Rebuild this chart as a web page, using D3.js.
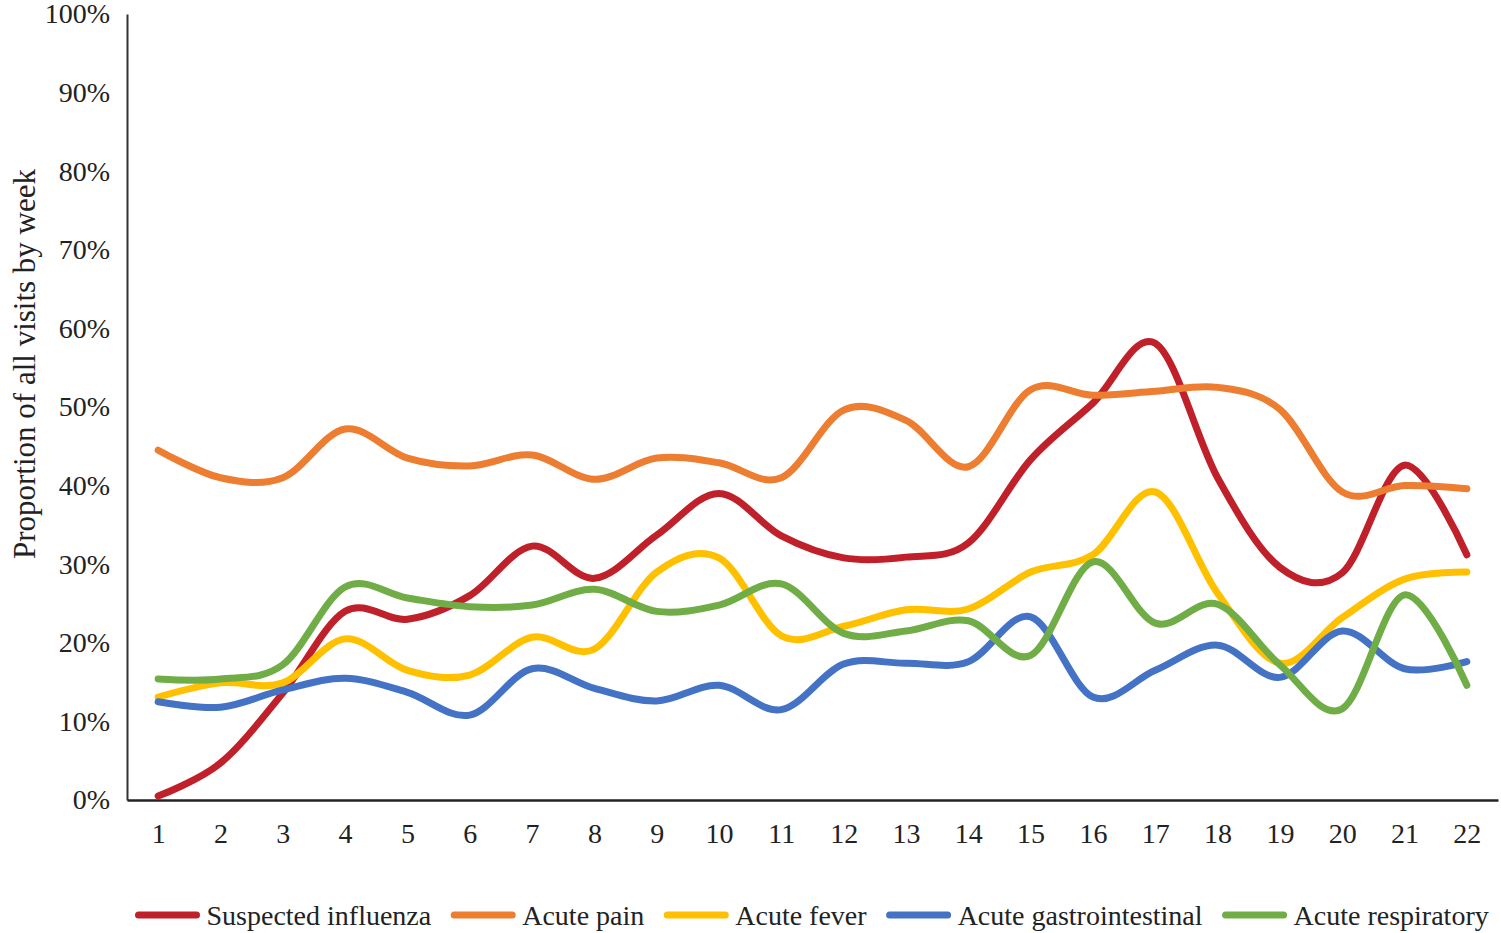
<!DOCTYPE html>
<html>
<head>
<meta charset="utf-8">
<script src="https://cdn.jsdelivr.net/npm/d3@7"></script>
<style>
  body { margin: 0; background: #fff; }
  text { font-family: "Liberation Serif", "DejaVu Serif", serif; fill: #222; }
</style>
</head>
<body>
<div id="chart"></div>
<script>
// data (percent of all visits, by week)
var weeks = d3.range(1, 23);
var yTicks = [0, 10, 20, 30, 40, 50, 60, 70, 80, 90, 100];
var seriesNames = ["Suspected influenza", "Acute pain", "Acute fever", "Acute gastrointestinal", "Acute respiratory"];
var seriesColors = ["#C0202A", "#ED7D31", "#FFC000", "#4472C4", "#70AD47"];

var influenza = [0.5, 4.7, 13.6, 24.0, 23.0, 26.0, 32.3, 28.2, 33.7, 39.0, 33.6, 30.8, 30.9, 32.7, 43.3, 50.5, 58.1, 41.0, 29.6, 28.9, 42.6, 31.2];
var pain = [44.5, 41.0, 41.0, 47.2, 43.5, 42.5, 43.9, 40.8, 43.5, 42.9, 41.0, 49.6, 48.3, 42.4, 52.2, 51.5, 52.0, 52.5, 49.7, 39.2, 40.0, 39.6];
var fever = [13.1, 14.9, 14.9, 20.5, 16.5, 15.9, 20.7, 19.2, 29.0, 30.8, 20.9, 22.1, 24.2, 24.3, 29.0, 31.2, 39.2, 26.3, 17.4, 23.2, 28.1, 29.0];
var gastro = [12.5, 11.8, 14.0, 15.5, 13.7, 10.8, 16.7, 14.2, 12.6, 14.6, 11.5, 17.3, 17.4, 17.6, 23.3, 13.1, 16.5, 19.7, 15.6, 21.5, 16.7, 17.6];
var respiratory = [15.4, 15.4, 17.2, 27.1, 25.7, 24.6, 24.8, 26.8, 24.0, 24.8, 27.5, 21.2, 21.5, 22.8, 18.4, 30.3, 22.5, 24.9, 17.2, 11.6, 26.1, 14.6];

var allSeries = [influenza, pain, fever, gastro, respiratory];

var W = 1501, H = 933;
var plotLeft = 127, plotRight = 1498, plotTop = 14, plotBottom = 800;

var svg = d3.select("#chart").append("svg")
  .attr("width", W)
  .attr("height", H);

var x = d3.scaleLinear().domain([0.5, 22.5]).range([plotLeft, plotRight]);
var y = d3.scaleLinear().domain([0, 100]).range([plotBottom, plotTop]);

// axes
var yAxis = svg.append("g")
  .attr("transform", "translate(" + plotLeft + ",0)")
  .call(d3.axisLeft(y).tickValues(yTicks).tickSize(0).tickPadding(17).tickFormat(function(d) { return d + "%"; }));
yAxis.select(".domain").attr("stroke", "#333").attr("stroke-width", 2);
yAxis.selectAll("text").style("font-size", "28px").attr("font-family", null);

var xAxis = svg.append("g")
  .attr("transform", "translate(0," + plotBottom + ")")
  .call(d3.axisBottom(x).tickValues(weeks).tickSize(0).tickPadding(23).tickFormat(d3.format("d")));
xAxis.select(".domain").attr("stroke", "#222").attr("stroke-width", 2.5);
xAxis.selectAll("text").style("font-size", "28px").attr("font-family", null);

// axis title
svg.append("text")
  .attr("transform", "translate(24,364) rotate(-90)")
  .attr("text-anchor", "middle")
  .attr("dy", "0.35em")
  .style("font-size", "31px")
  .text("Proportion of all visits by week");

// lines
var line = d3.line()
  .x(function(d, i) { return x(weeks[i]); })
  .y(function(d) { return y(d); })
  .curve(d3.curveCardinal.tension(0));

svg.selectAll(".series")
  .data(allSeries)
  .enter()
  .append("path")
    .attr("class", "series")
    .attr("d", line)
    .attr("fill", "none")
    .attr("stroke", function(d, i) { return seriesColors[i]; })
    .attr("stroke-width", 7)
    .attr("stroke-linecap", "round")
    .attr("stroke-linejoin", "round");

// legend
var legend = svg.append("g").attr("transform", "translate(0,915)");
var lx = 138.5;
seriesNames.forEach(function(name, i) {
  var g = legend.append("g").attr("transform", "translate(" + lx + ",0)");
  g.append("line")
    .attr("x1", 0).attr("x2", 58)
    .attr("stroke", seriesColors[i])
    .attr("stroke-width", 7)
    .attr("stroke-linecap", "round");
  var t = g.append("text")
    .attr("x", 68)
    .attr("dy", "0.35em")
    .style("font-size", "28px")
    .text(name);
  lx += 68 + t.node().getComputedTextLength() + 23;
});
</script>
</body>
</html>
